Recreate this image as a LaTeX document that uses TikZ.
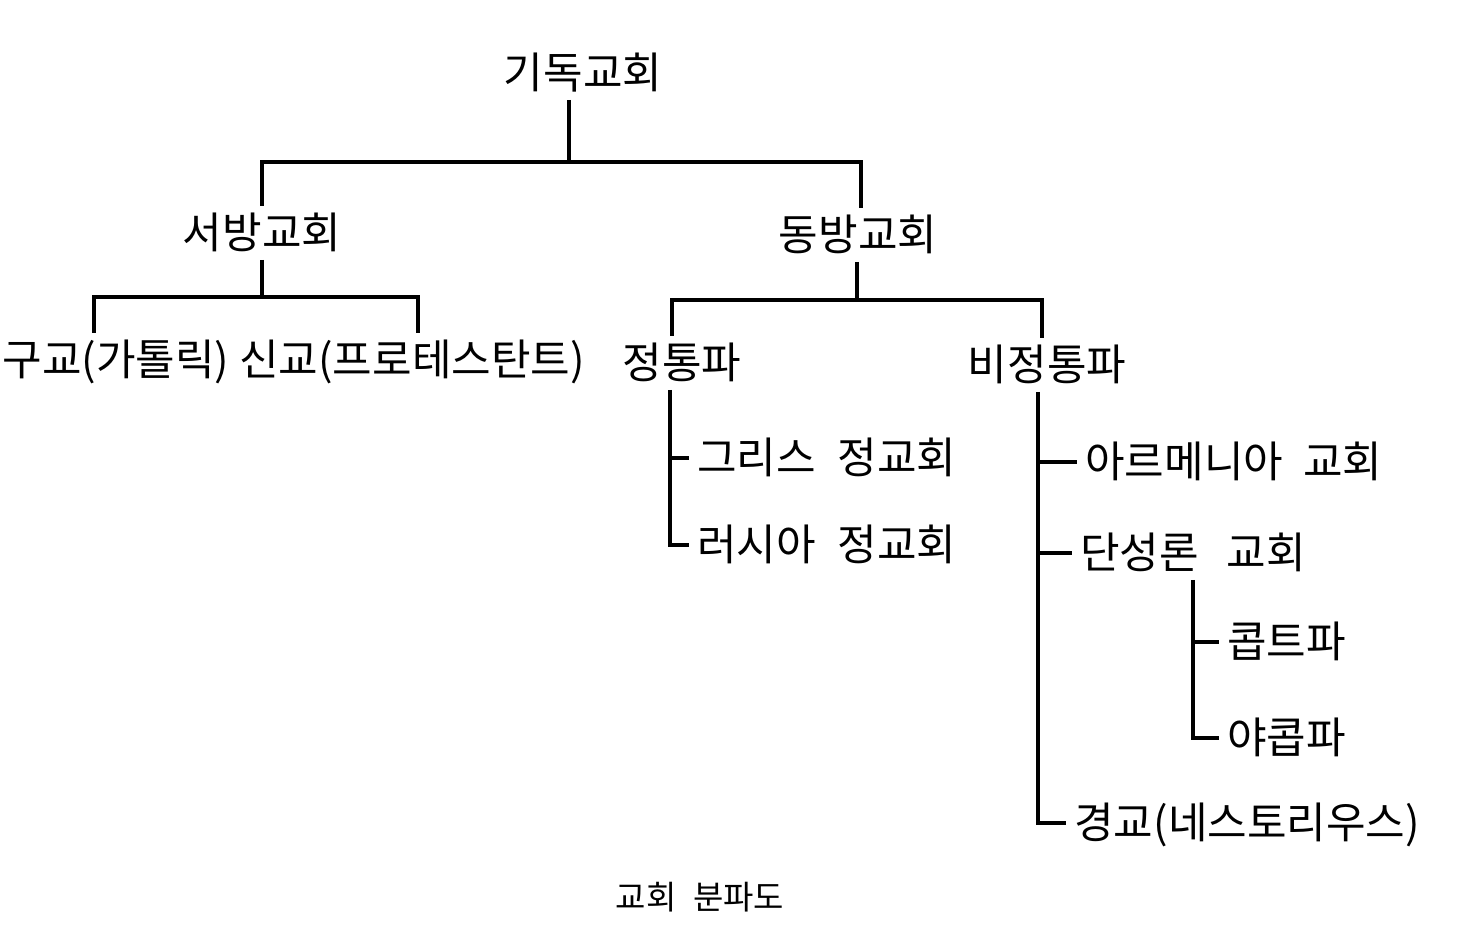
\documentclass[tikz,border=0pt]{standalone}
\usepackage{fontspec}
\setmainfont{Noto Sans CJK KR}
\begin{document}
\begin{tikzpicture}[x=0.5pt,y=-0.5pt,
  lbl/.style={inner sep=4pt,font=\fontsize{21.5}{26}\selectfont,text height=17pt,text depth=1.6pt},
  captext/.style={inner sep=2pt,font=\fontsize{16.5}{20}\selectfont},
  conn/.style={line width=1.6pt,line join=miter}]
\useasboundingbox (0,0) rectangle (1473,929);
\fill[white] (0,0) rectangle (1473,929);
% nodes
\node[lbl] (root) at (583,73) {기독교회};
\node[lbl] (west) at (262,233) {서방교회};
\node[lbl] (east) at (858,235) {동방교회};
\node[lbl] (old) at (116,360) {구교(가톨릭)};
\node[lbl] (new) at (412,360) {신교(프로테스탄트)};
\node[lbl] (orth) at (682,363) {정통파};
\node[lbl] (nonorth) at (1047,365) {비정통파};
\node[lbl,anchor=west] (greek) at (689,458) {그리스\hspace{0.5em}정교회};
\node[lbl,anchor=west] (russian) at (689,545) {러시아\hspace{0.5em}정교회};
\node[lbl,anchor=west] (armen) at (1077,462) {아르메니아\hspace{0.47em}교회};
\node[lbl,anchor=west] (mono) at (1072,553) {단성론\hspace{0.65em}교회};
\node[lbl,anchor=west] (copt) at (1219,642) {콥트파};
\node[lbl,anchor=west] (jacob) at (1219,738) {야콥파};
\node[lbl,anchor=west] (nest) at (1066,823) {경교(네스토리우스)};
\node[captext] (caption) at (700,897) {교회\hspace{0.5em}분파도};
% junctions
\coordinate (j1) at (569,162);
\coordinate (j2) at (262,297);
\coordinate (j3) at (857,300);
\coordinate (ov) at (670,0);
\coordinate (nv) at (1038,0);
\coordinate (mv) at (1193,0);
% connectors
\draw[conn] (root.south -| j1) -- (j1);
\draw[conn] (west.north) |- (j1) -| ([xshift=1.5pt]east.north);
\draw[conn] (west.south) -- (j2);
\draw[conn] ([xshift=-11pt]old.north) |- (j2) -| ([xshift=3pt]new.north);
\draw[conn] (east.south -| j3) -- (j3);
\draw[conn] ([xshift=-5pt]orth.north) |- (j3) -| ([xshift=-2.5pt]nonorth.north);
\draw[conn] (orth.south -| ov) |- (russian.west);
\draw[conn] (ov |- greek.west) -- (greek.west);
\draw[conn] (nonorth.south -| nv) |- (nest.west);
\draw[conn] (nv |- armen.west) -- (armen.west);
\draw[conn] (nv |- mono.west) -- (mono.west);
\draw[conn] (mono.south -| mv) |- (jacob.west);
\draw[conn] (mv |- copt.west) -- (copt.west);
\end{tikzpicture}
\end{document}
